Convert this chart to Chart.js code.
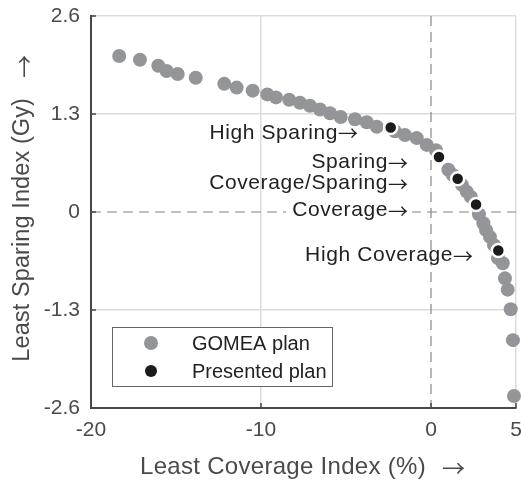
<!DOCTYPE html>
<html>
<head>
<meta charset="utf-8">
<script src="https://cdn.jsdelivr.net/npm/chart.js@4/dist/chart.umd.min.js"></script>
<style>
  html, body { margin: 0; padding: 0; background: #fff; }
  #wrap { width: 521px; height: 481px; }
</style>
</head>
<body>
<div id="wrap"><canvas id="c" width="521" height="481"></canvas></div>
<script>
// Trade-off front: least coverage index (%) vs least sparing index (Gy)
const gomeaX = [-18.34, -17.12, -16.04, -15.55, -14.90, -13.84, -12.16, -11.43, -10.49, -9.63,
                -9.12, -8.34, -7.71, -7.12, -6.53, -5.94, -5.31, -4.47, -3.78, -3.19,
                -2.12, -1.53, -0.84, -0.25, 0.29, 1.02, 1.29, 1.82, 2.10, 2.35,
                2.82, 3.08, 3.24, 3.47, 3.71, 3.94, 4.22, 4.35, 4.51, 4.69, 4.82, 4.88];
const gomeaY = [2.07, 2.02, 1.94, 1.87, 1.83, 1.78, 1.70, 1.65, 1.61, 1.56,
                1.52, 1.49, 1.45, 1.41, 1.36, 1.31, 1.26, 1.23, 1.19, 1.13,
                1.07, 1.02, 0.98, 0.89, 0.82, 0.56, 0.49, 0.36, 0.27, 0.20,
                -0.03, -0.15, -0.24, -0.33, -0.44, -0.61, -0.68, -0.88, -1.03, -1.29, -1.70, -2.44];

const presentedNames = ['High Sparing', 'Sparing', 'Coverage/Sparing', 'Coverage', 'High Coverage'];
const presentedX = [-2.37, 0.47, 1.57, 2.65, 3.96];
const presentedY = [1.12, 0.73, 0.44, 0.10, -0.51];

// where each callout text ends (right edge, vertical centre), in axis units
const calloutX = [-4.29, -1.35, -1.35, -1.35, 2.47];
const calloutY = [1.05, 0.66, 0.385, 0.027, -0.57];
const calloutOpaque = [false, false, false, true, false];

const xTicks = [-20, -10, 0, 5];
const yTicks = [-2.6, -1.3, 0, 1.3, 2.6];
const yTickText = ['-2.6', '-1.3', '0', '1.3', '2.6'];

const seriesNames = ['GOMEA plan', 'Presented plan'];
const xTitle = 'Least Coverage Index (%)';
const yTitle = 'Least Sparing Index (Gy)';
const ARROW = '\u2192';

const GREY = '#939598';
const DARK = '#1b1b1b';
const AXIS = '#474747';
const FONT = '"Liberation Sans", Arial, Helvetica, sans-serif';
const ARROW_FONT = '"Noto Sans CJK JP", "DejaVu Sans", sans-serif';

const toPoints = (xs, ys) => xs.map((x, i) => ({ x: x, y: ys[i] }));

// width of a text run followed by a thin arrow glyph
function measureArrowText(ctx, txt, size, arrowSize, spacing, gap) {
  ctx.letterSpacing = spacing + 'px';
  ctx.font = size + 'px ' + FONT;
  const tw = ctx.measureText(txt).width;
  ctx.letterSpacing = '0px';
  ctx.font = arrowSize + 'px ' + ARROW_FONT;
  const aw = ctx.measureText(ARROW).width;
  return { tw: tw, aw: aw, total: tw + gap + aw };
}

// text followed by a thin arrow glyph, right-aligned at (px, py)
function textWithArrow(ctx, txt, px, py, size, arrowSize, spacing, gap) {
  const m = measureArrowText(ctx, txt, size, arrowSize, spacing, gap);
  ctx.textAlign = 'left';
  ctx.textBaseline = 'middle';
  ctx.letterSpacing = '0px';
  ctx.font = arrowSize + 'px ' + ARROW_FONT;
  ctx.fillText(ARROW, px - m.aw, py + 1);
  ctx.letterSpacing = spacing + 'px';
  ctx.font = size + 'px ' + FONT;
  ctx.fillText(txt, px - m.total, py);
  ctx.letterSpacing = '0px';
  return m.total;
}

const decor = {
  id: 'decor',
  beforeDatasetsDraw(chart) {
    const { ctx, chartArea: a, scales: { x, y } } = chart;
    ctx.save();
    ctx.strokeStyle = '#858585';
    ctx.lineWidth = 1.2;
    ctx.setLineDash([10, 6]);
    const x0 = x.getPixelForValue(0), y0 = y.getPixelForValue(0);
    ctx.beginPath();
    ctx.moveTo(x0, a.top); ctx.lineTo(x0, a.bottom);
    ctx.moveTo(a.left, y0); ctx.lineTo(a.right, y0);
    ctx.stroke();
    ctx.restore();
  },
  afterDraw(chart) {
    const { ctx, chartArea: a, scales: { x, y } } = chart;
    ctx.save();
    // inward tick marks on the two drawn axes
    ctx.strokeStyle = AXIS;
    ctx.lineWidth = 1.5;
    ctx.beginPath();
    yTicks.forEach(v => {
      const py = y.getPixelForValue(v);
      ctx.moveTo(a.left, py); ctx.lineTo(a.left + 5, py);
    });
    xTicks.forEach(v => {
      const px = x.getPixelForValue(v);
      ctx.moveTo(px, a.bottom); ctx.lineTo(px, a.bottom - 5);
    });
    ctx.stroke();

    // callout texts next to the presented plans
    presentedNames.forEach((name, i) => {
      const px = x.getPixelForValue(calloutX[i]);
      const py = y.getPixelForValue(calloutY[i]);
      if (calloutOpaque[i]) {
        const m = measureArrowText(ctx, name, 21, 20, 0.6, 0);
        ctx.fillStyle = '#fff';
        ctx.fillRect(px - m.total - 6, py - 11, m.total + 10, 22);
      }
      ctx.fillStyle = '#222';
      textWithArrow(ctx, name, px, py, 21, 20, 0.6, 0);
    });

    // legend box
    ctx.fillStyle = '#fff';
    ctx.fillRect(112, 327, 220, 59);
    ctx.strokeStyle = '#666';
    ctx.lineWidth = 1;
    ctx.setLineDash([]);
    ctx.strokeRect(112.5, 327.5, 220, 59);
    const rows = [
      { c: GREY, r: 7, ty: 343 },
      { c: DARK, r: 6, ty: 371 }
    ];
    rows.forEach((row, i) => {
      ctx.beginPath();
      ctx.arc(151, row.ty, row.r, 0, Math.PI * 2);
      ctx.fillStyle = row.c;
      ctx.fill();
      ctx.fillStyle = '#222';
      ctx.textAlign = 'left';
      ctx.textBaseline = 'middle';
      ctx.font = '20px ' + FONT;
      ctx.fillText(seriesNames[i], 192, row.ty + 1);
    });

    // axis titles, each followed by a direction arrow
    ctx.fillStyle = '#4a4a4a';
    ctx.save();
    ctx.translate(465, 467);
    textWithArrow(ctx, xTitle, 0, 0, 24, 23, 0.3, 16);
    ctx.restore();
    ctx.save();
    ctx.translate(23, 55);
    ctx.rotate(-Math.PI / 2);
    textWithArrow(ctx, yTitle, 0, 0, 23.5, 23, 0.1, 20);
    ctx.restore();
    ctx.restore();
  }
};

new Chart(document.getElementById('c'), {
  type: 'scatter',
  data: {
    datasets: [
      {
        label: seriesNames[1],
        data: toPoints(presentedX, presentedY),
        backgroundColor: DARK,
        borderColor: '#fff',
        borderWidth: 2.5,
        pointRadius: 6.5,
        pointHoverRadius: 6.5,
        clip: false,
        order: 0
      },
      {
        label: seriesNames[0],
        data: toPoints(gomeaX, gomeaY),
        backgroundColor: GREY,
        borderWidth: 0,
        pointRadius: 7,
        pointHoverRadius: 7,
        clip: false,
        order: 1
      }
    ]
  },
  options: {
    responsive: false,
    animation: false,
    events: [],
    layout: { autoPadding: false, padding: { left: 0, top: 16, right: 5, bottom: 0 } },
    plugins: { legend: { display: false }, tooltip: { enabled: false } },
    scales: {
      x: {
        type: 'linear',
        min: -20, max: 5,
        afterBuildTicks: s => { s.ticks = xTicks.map(v => ({ value: v })); },
        afterFit: s => { s.height = 73; s.paddingLeft = 0; s.paddingRight = 0; },
        grid: {
          drawTicks: false,
          lineWidth: 1.5,
          color: c => (c.tick && c.tick.value === 0) ? 'rgba(0,0,0,0)' : '#dcdcdc'
        },
        border: { color: AXIS, width: 2 },
        ticks: {
          padding: 10,
          color: '#4a4a4a',
          font: { family: FONT, size: 21 },
          maxRotation: 0,
          autoSkip: false,
          callback: v => String(v)
        }
      },
      y: {
        type: 'linear',
        min: -2.6, max: 2.6,
        afterBuildTicks: s => { s.ticks = yTicks.map(v => ({ value: v })); },
        afterFit: s => { s.width = 91; s.paddingTop = 0; s.paddingBottom = 0; },
        grid: {
          drawTicks: false,
          lineWidth: 1.5,
          color: c => (c.tick && c.tick.value === 0) ? 'rgba(0,0,0,0)' : '#dcdcdc'
        },
        border: { color: AXIS, width: 2 },
        ticks: {
          padding: 11,
          color: '#4a4a4a',
          font: { family: FONT, size: 21 },
          autoSkip: false,
          callback: v => {
            const k = yTicks.indexOf(v);
            return k >= 0 ? yTickText[k] : String(v);
          }
        }
      }
    }
  },
  plugins: [decor]
});
</script>
</body>
</html>
